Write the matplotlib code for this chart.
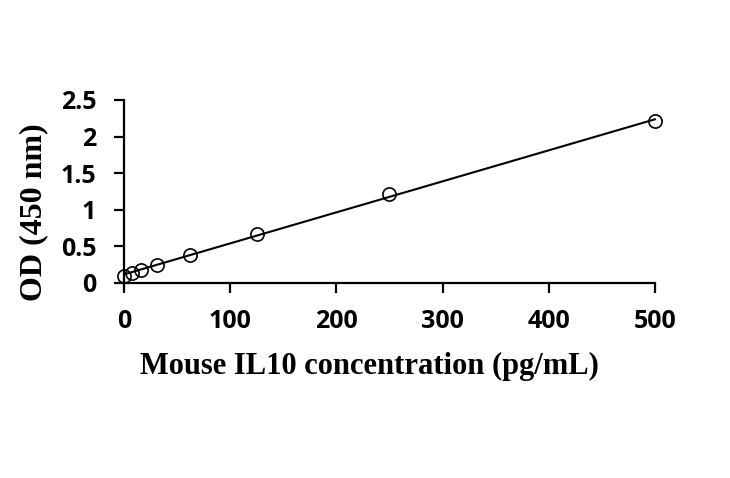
import numpy as np
import matplotlib
matplotlib.use("Agg")
import matplotlib.pyplot as plt
from matplotlib.ticker import FuncFormatter

# Data
concentration = [0, 7.8, 15.6, 31.25, 62.5, 125, 250, 500]
od_450 = [0.10, 0.14, 0.18, 0.245, 0.38, 0.67, 1.215, 2.21]
x_ticks = [0, 100, 200, 300, 400, 500]
y_ticks = [0, 0.5, 1, 1.5, 2, 2.5]

fig = plt.figure(figsize=(7.3, 4.78), dpi=100)
ax = fig.add_axes([0.170, 0.408, 0.727, 0.383])

# linear fit line
slope, intercept = np.polyfit(concentration, od_450, 1)
xf = np.array([min(concentration), max(concentration)])
ax.plot(xf, slope * xf + intercept, color="black", lw=1.5, zorder=2, clip_on=False)
ax.plot(concentration, od_450, linestyle="none", marker="o", ms=9.5,
        mfc="none", mec="black", mew=1.2, zorder=3, clip_on=False)

ax.set_xlim(0, 500)
ax.set_ylim(0, 2.5)
ax.set_xticks(x_ticks)
ax.set_yticks(y_ticks)
ax.yaxis.set_major_formatter(FuncFormatter(lambda v, p: f"{v:g}"))

for s in ["top", "right"]:
    ax.spines[s].set_visible(False)
for s in ["left", "bottom"]:
    ax.spines[s].set_linewidth(1.6)
    ax.spines[s].set_clip_on(False)
ax.tick_params(direction="out", length=7, width=1.6)
ax.tick_params(axis="x", pad=12)
ax.tick_params(axis="y", pad=13)
for lab in ax.get_xticklabels() + ax.get_yticklabels():
    lab.set_fontfamily("Open Sans")
    lab.set_fontweight("bold")
    lab.set_fontsize(18)

ax.set_xlabel("Mouse IL10 concentration (pg/mL)", family="Liberation Serif",
              fontweight="bold", fontsize=22, va="center")
ax.xaxis.set_label_coords(0.463, -0.454)
ax.set_ylabel("OD (450 nm)", family="Liberation Serif",
              fontweight="bold", fontsize=23, va="center")
ax.yaxis.set_label_coords(-0.171, 0.388)

fig.savefig("out.png", dpi=100)
